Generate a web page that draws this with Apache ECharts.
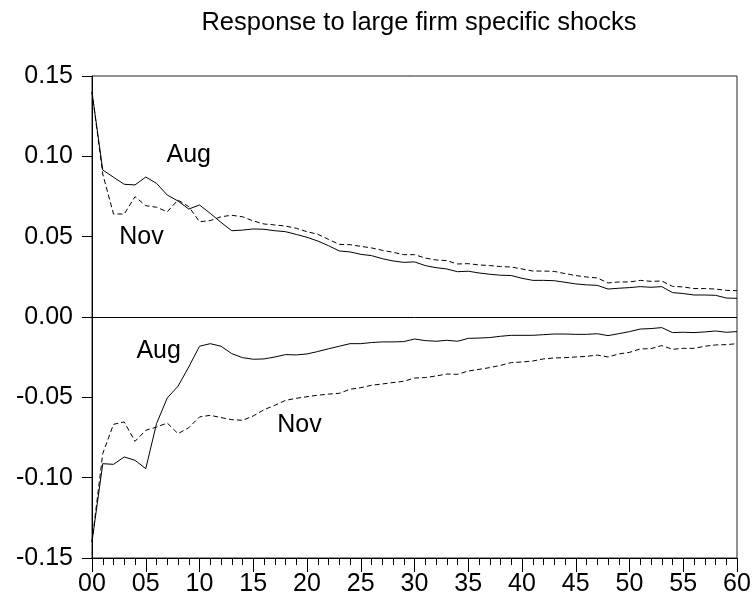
<!DOCTYPE html>
<html>
<head>
<meta charset="utf-8">
<script src="https://cdn.jsdelivr.net/npm/echarts@6/dist/echarts.min.js"></script>
<style>html,body{margin:0;padding:0;background:#fff;}#c{width:754px;height:603px;}</style>
</head>
<body>
<div id="c"></div>
<script>
const periods = [];
for (let i = 0; i <= 60; i++) periods.push(i);

const augUpper = [0.140, 0.0915, 0.087, 0.0826, 0.0822, 0.0871, 0.0832, 0.0759, 0.0722, 0.0672,
  0.0697, 0.0645, 0.0589, 0.0537, 0.0541, 0.0548, 0.0546, 0.0537, 0.0531, 0.0514,
  0.0496, 0.0473, 0.0444, 0.0411, 0.0405, 0.039, 0.0382, 0.0363, 0.0349, 0.034,
  0.0343, 0.032, 0.0307, 0.0299, 0.0282, 0.0285, 0.0274, 0.0266, 0.026, 0.0258,
  0.0241, 0.0228, 0.0228, 0.0226, 0.0216, 0.0206, 0.02, 0.0197, 0.0174, 0.0179,
  0.0183, 0.0189, 0.0185, 0.0189, 0.0152, 0.0146, 0.0137, 0.0137, 0.0135, 0.0118, 0.0116];

const novUpper = [0.140, 0.089, 0.0641, 0.0641, 0.0749, 0.0693, 0.0683, 0.0655, 0.0728, 0.0687,
  0.0593, 0.060, 0.0624, 0.0633, 0.0624, 0.0598, 0.0579, 0.0573, 0.0566, 0.0552,
  0.0531, 0.0515, 0.0483, 0.0452, 0.045, 0.044, 0.043, 0.0415, 0.0403, 0.0388,
  0.0388, 0.0367, 0.0355, 0.0351, 0.033, 0.0332, 0.0324, 0.032, 0.0314, 0.0311,
  0.0299, 0.0286, 0.0286, 0.0284, 0.027, 0.0258, 0.0249, 0.0243, 0.0212, 0.0218,
  0.0218, 0.0228, 0.0222, 0.0224, 0.0191, 0.0187, 0.0177, 0.0177, 0.0174, 0.0166, 0.0164];

const augLower = [-0.140, -0.0913, -0.0917, -0.0871, -0.0892, -0.0944, -0.0664, -0.0504, -0.0431, -0.0311,
  -0.0182, -0.0166, -0.0182, -0.0228, -0.0253, -0.0263, -0.0261, -0.0249, -0.0234, -0.0236,
  -0.023, -0.0215, -0.0198, -0.0182, -0.0166, -0.0166, -0.0159, -0.0155, -0.0155, -0.0153,
  -0.0137, -0.0147, -0.0151, -0.0145, -0.0151, -0.0133, -0.0131, -0.0128, -0.012, -0.0114,
  -0.0114, -0.0114, -0.011, -0.0106, -0.0106, -0.0108, -0.0108, -0.0104, -0.0116, -0.0104,
  -0.0091, -0.0075, -0.0072, -0.0066, -0.0097, -0.0095, -0.0097, -0.0093, -0.0087, -0.0095, -0.0091];

const novLower = [-0.140, -0.085, -0.0668, -0.0653, -0.0774, -0.0705, -0.0685, -0.066, -0.0726, -0.0689,
  -0.0622, -0.0612, -0.0626, -0.0639, -0.0643, -0.0616, -0.0577, -0.055, -0.0519, -0.0506,
  -0.0496, -0.0487, -0.048, -0.0475, -0.045, -0.044, -0.0425, -0.0417, -0.0408, -0.04,
  -0.038, -0.0377, -0.0367, -0.0355, -0.0357, -0.0336, -0.0326, -0.0315, -0.0301, -0.0284,
  -0.028, -0.0274, -0.0261, -0.0255, -0.0253, -0.0249, -0.0245, -0.0237, -0.0249, -0.023,
  -0.022, -0.0199, -0.0197, -0.0178, -0.0201, -0.0195, -0.0195, -0.0182, -0.0174, -0.0172, -0.0166];

const titleText = 'Response to large firm specific shocks';
const seriesNames = ['Aug', 'Nov'];

const pairs = arr => arr.map((v, i) => [periods[i], v]);
const FONT = 'Liberation Sans, Arial, sans-serif';

function labelPoint(name, coord) {
  return {
    symbol: 'rect', symbolSize: 1,
    itemStyle: { color: 'rgba(0,0,0,0)' },
    label: { show: true, position: 'inside', formatter: '{b}', color: '#000', fontSize: 25, fontFamily: FONT },
    data: [{ name: name, coord: coord }]
  };
}

const chart = echarts.init(document.getElementById('c'), null, { renderer: 'canvas' });
chart.setOption({
  animation: false,
  backgroundColor: '#fff',
  title: {
    text: titleText,
    left: 414, top: 5, textAlign: 'center',
    textStyle: { fontSize: 25.5, fontWeight: 'normal', color: '#000', fontFamily: FONT }
  },
  grid: { left: 92, right: 17, top: 76, bottom: 45, show: true, borderColor: '#222', borderWidth: 1 },
  xAxis: {
    type: 'value', min: 0, max: 60, interval: 5,
    axisLine: { onZero: false, lineStyle: { color: '#000', width: 1 } },
    axisTick: { show: true, length: 14, lineStyle: { color: '#000' } },
    minorTick: { show: true, splitNumber: 5, length: 7, lineStyle: { color: '#000' } },
    splitLine: { show: false },
    axisLabel: { color: '#000', fontSize: 25, fontFamily: FONT, margin: 14,
      formatter: v => (v < 10 ? '0' : '') + v }
  },
  yAxis: {
    type: 'value', min: -0.15, max: 0.15, interval: 0.05,
    axisLine: { show: true, lineStyle: { color: '#000', width: 1 } },
    axisTick: { show: true, length: 10, lineStyle: { color: '#000' } },
    splitLine: { show: false },
    axisLabel: { color: '#000', fontSize: 25, fontFamily: FONT, margin: 19,
      padding: [0, 0, 8, 0],
      formatter: v => v.toFixed(2) }
  },
  series: [
    { name: seriesNames[0], type: 'line', data: pairs(augUpper), symbol: 'none',
      lineStyle: { color: '#000', width: 1 },
      markLine: { silent: true, symbol: 'none', label: { show: false },
        lineStyle: { color: '#000', width: 1, type: 'solid' }, data: [{ yAxis: 0 }] },
      markPoint: labelPoint(seriesNames[0], [9, 0.1005]) },
    { name: seriesNames[1], type: 'line', data: pairs(novUpper), symbol: 'none',
      lineStyle: { color: '#000', width: 1, type: [5, 3] },
      markPoint: labelPoint(seriesNames[1], [4.6, 0.0498]) },
    { name: seriesNames[0] + ' ', type: 'line', data: pairs(augLower), symbol: 'none',
      lineStyle: { color: '#000', width: 1 },
      markPoint: labelPoint(seriesNames[0], [6.2, -0.0215]) },
    { name: seriesNames[1] + ' ', type: 'line', data: pairs(novLower), symbol: 'none',
      lineStyle: { color: '#000', width: 1, type: [5, 3] },
      markPoint: labelPoint(seriesNames[1], [19.3, -0.0672]) }
  ]
});
</script>
</body>
</html>
